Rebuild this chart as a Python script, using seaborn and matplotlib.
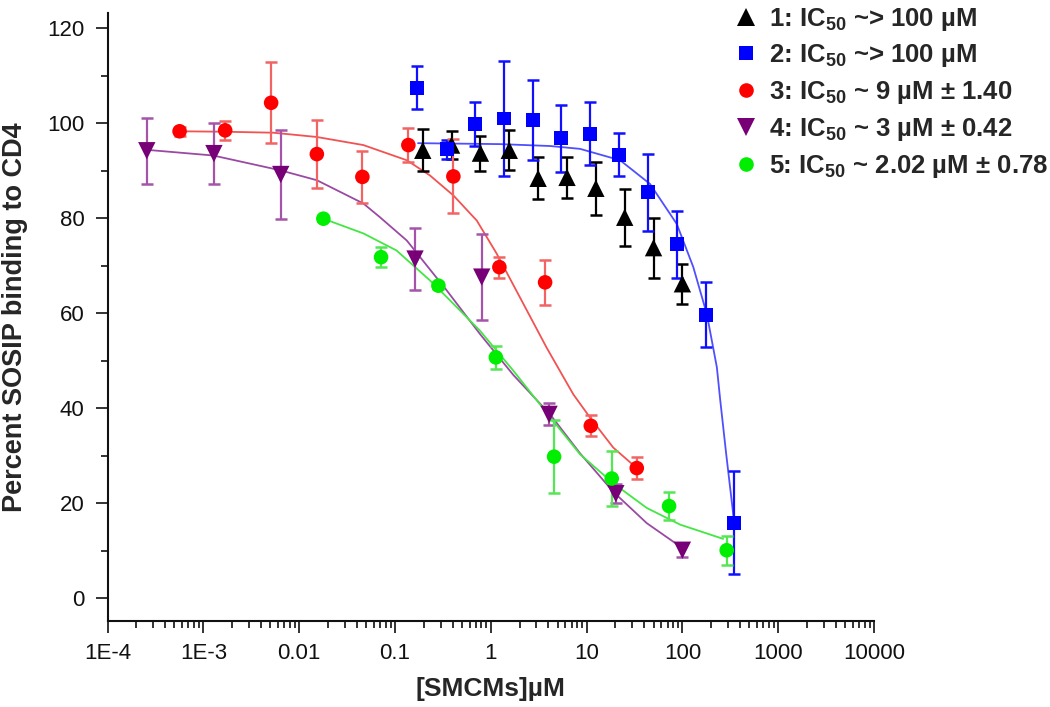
import numpy as np
import pandas as pd
import matplotlib
matplotlib.use("Agg")
import matplotlib.pyplot as plt
import seaborn as sns
from matplotlib.lines import Line2D
from matplotlib.ticker import FixedLocator, LogLocator, MultipleLocator, NullFormatter

# ---- data ----
# 1: black triangles (no fit)
black_x = [0.195, 0.39, 0.78, 1.56, 3.12, 6.25, 12.5, 25, 50, 100]
black_y = [94.3, 95.4, 93.7, 94.3, 88.4, 88.6, 86.3, 80.2, 73.8, 66.2]
black_err = [4.4, 3.0, 3.7, 4.2, 4.4, 4.3, 5.6, 6.0, 6.3, 4.2]

# 2: blue squares
blue_x = [0.17, 0.35, 0.685, 1.38, 2.76, 5.42, 10.9, 21.8, 43.8, 88, 177, 347]
blue_y = [107.5, 94.5, 99.9, 101.0, 100.6, 96.8, 97.8, 93.4, 85.5, 74.5, 59.7, 15.9]
blue_err = [4.5, 2.0, 4.6, 12.2, 8.4, 7.0, 6.6, 4.6, 8.1, 7.0, 6.8, 10.8]
blue_fit_x = [0.174, 1.25, 4.16, 8.55, 22.4, 46.0, 87.3, 130, 180, 229, 248, 286, 347]
blue_fit_y = [95.8, 95.6, 95.2, 94.6, 92.2, 87.2, 78.8, 69.7, 59.8, 48.6, 41.8, 30.5, 16.0]

# 3: red circles
red_x = [0.000565, 0.00169, 0.0051, 0.0153, 0.0457, 0.138, 0.407, 1.23, 3.69, 11.07, 33.4]
red_y = [98.3, 98.5, 104.3, 93.5, 88.7, 95.4, 88.8, 69.7, 66.5, 36.3, 27.4]
red_err = [1.0, 2.0, 8.5, 7.2, 5.4, 3.5, 7.8, 2.2, 4.8, 2.2, 2.4]
red_fit_x = [0.000571, 0.00175, 0.00538, 0.0153, 0.0468, 0.133, 0.232, 0.407, 0.715,
             1.156, 2.02, 3.84, 7.28, 10.9, 19.0, 33.4]
red_fit_y = [98.3, 98.2, 98.0, 97.1, 95.4, 92.2, 89.0, 84.8, 79.5,
             72.5, 63.3, 52.7, 42.9, 38.0, 31.7, 27.4]

# 4: purple down triangles
purple_x = [0.000257, 0.00129, 0.00643, 0.162, 0.805, 4.06, 20.2, 100]
purple_y = [94.2, 93.6, 89.2, 71.4, 67.6, 38.7, 22.0, 10.1]
purple_err = [6.9, 6.5, 9.3, 6.5, 9.0, 2.3, 2.0, 1.5]
purple_fit_x = [0.000256, 0.00127, 0.00632, 0.0153, 0.0468, 0.0698, 0.133, 0.347, 0.773,
                1.72, 4.16, 8.55, 19.0, 42.5, 94.6]
purple_fit_y = [94.4, 93.2, 90.1, 88.0, 83.1, 80.2, 75.3, 64.8, 55.6,
                47.0, 38.7, 30.5, 22.4, 15.8, 10.9]

# 5: green circles
green_x = [0.0179, 0.0716, 0.284, 1.13, 4.58, 18.3, 72.6, 290]
green_y = [79.9, 71.8, 65.8, 50.7, 29.8, 25.2, 19.4, 10.1]
green_err = [0.5, 2.1, 0.8, 2.5, 7.7, 5.8, 3.0, 3.0]
green_fit_x = [0.0179, 0.0468, 0.104, 0.232, 0.347, 0.773, 1.72, 3.84, 8.55,
               19.0, 42.5, 94.6, 266]
green_fit_y = [79.9, 76.8, 73.2, 66.9, 63.4, 56.3, 47.9, 39.0, 30.3,
               24.2, 19.0, 15.5, 12.5]

labels = [
    r"1: IC$_\mathbf{50}$ ~> 100 µM",
    r"2: IC$_\mathbf{50}$ ~> 100 µM",
    r"3: IC$_\mathbf{50}$ ~ 9 µM ± 1.40",
    r"4: IC$_\mathbf{50}$ ~ 3 µM ± 0.42",
    r"5: IC$_\mathbf{50}$ ~ 2.02 µM ± 0.78",
]
tick_vals = [1e-4, 1e-3, 1e-2, 1e-1, 1, 10, 100, 1000, 10000]
tick_labels = ["1E-4", "1E-3", "0.01", "0.1", "1", "10", "100", "1000", "10000"]

# ---- style ----
sns.set_style("ticks")
plt.rcParams['font.family'] = ['Liberation Sans', 'DejaVu Sans']
plt.rcParams['mathtext.fontset'] = 'custom'
plt.rcParams['mathtext.rm'] = 'Liberation Sans'
plt.rcParams['mathtext.bf'] = 'Liberation Sans:bold'

fig = plt.figure(figsize=(10.5, 7.07), dpi=100)
ax = fig.add_axes([0.1024, 0.1216, 0.730, 0.860])

series = [
    # x, y, err, marker, size, marker colour, bar colour
    (black_x, black_y, black_err, '^', 12.5, '#000000', '#000000'),
    (blue_x, blue_y, blue_err, 's', 10, '#0000ff', '#1010ff'),
    (red_x, red_y, red_err, 'o', 10.5, '#ff0000', '#f26464'),
    (purple_x, purple_y, purple_err, 'v', 12.5, '#770077', '#a455aa'),
    (green_x, green_y, green_err, 'o', 10.5, '#00ee00', '#55e655'),
]
fits = [
    (blue_fit_x, blue_fit_y, '#4f4fff'),
    (red_fit_x, red_fit_y, '#f25252'),
    (purple_fit_x, purple_fit_y, '#9a4aa2'),
    (green_fit_x, green_fit_y, '#44e644'),
]

for fx, fy, c in fits:
    sns.lineplot(x=fx, y=fy, ax=ax, color=c, lw=1.3, sort=True, zorder=2)

for x, y, err, m, ms, mc, ec in series:
    ax.errorbar(x, y, yerr=err, fmt='none', ecolor=ec, elinewidth=1.6,
                capsize=4.3, capthick=1.8, zorder=3)
    sns.scatterplot(x=x, y=y, ax=ax, marker=m, s=ms ** 2, color=mc,
                    edgecolor='none', linewidth=0, zorder=4, legend=False)

ax.set_xscale('log')
ax.set_xlim(1e-4, 1e4)
ax.set_ylim(-4.8, 123.2)
ax.xaxis.set_major_locator(FixedLocator(tick_vals))
ax.set_xticklabels(tick_labels)
ax.xaxis.set_minor_locator(LogLocator(base=10, subs=np.arange(2, 10)))
ax.xaxis.set_minor_formatter(NullFormatter())
ax.yaxis.set_major_locator(MultipleLocator(20))
ax.yaxis.set_minor_locator(MultipleLocator(10))

sns.despine(ax=ax)
for s in ['left', 'bottom']:
    ax.spines[s].set_linewidth(1.5)
    ax.spines[s].set_color('#111111')
ax.tick_params(which='major', direction='out', length=8.5, width=1.2,
               labelsize=16, colors='#111111')
ax.tick_params(which='minor', direction='out', length=5, width=1.2, colors='#111111')
ax.tick_params(axis='x', which='major', pad=7)
ax.tick_params(axis='y', which='major', pad=8)

ax.set_xlabel("[SMCMs]µM", fontsize=19, fontweight='bold', labelpad=10)
ax.set_ylabel("Percent SOSIP binding to CD4", fontsize=19.5, fontweight='bold')
ax.yaxis.set_label_coords(-0.104, 0.5)

handles = [Line2D([], [], ls='none', marker=m, markersize=ms, color=mc, markeredgewidth=0)
           for _, _, _, m, ms, mc, _ in series]
leg = ax.legend(handles, labels, loc='upper left', bbox_to_anchor=(0.699, 0.992),
                bbox_transform=fig.transFigure, frameon=False, borderpad=0,
                borderaxespad=0, handlelength=0.9, handletextpad=0.45,
                labelspacing=0.38, prop={'size': 18.5, 'weight': 'bold'})

fig.savefig("out.png", dpi=100)
